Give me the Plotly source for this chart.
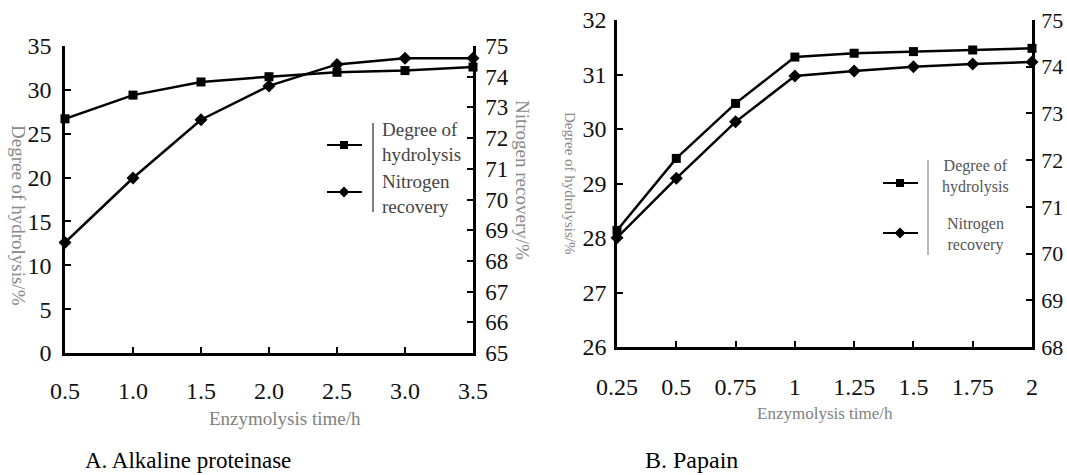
import plotly.graph_objects as go

W, H = 1067, 475

# ---------------- data ----------------
a_time = [0.5, 1.0, 1.5, 2.0, 2.5, 3.0, 3.5]
a_dh = [26.7, 29.4, 30.9, 31.5, 32.0, 32.2, 32.6]          # left axis
a_nr = [68.6, 70.7, 72.6, 73.7, 74.4, 74.6, 74.6]          # right axis
a_xticks = ["0.5", "1.0", "1.5", "2.0", "2.5", "3.0", "3.5"]

b_time = [0.25, 0.5, 0.75, 1.0, 1.25, 1.5, 1.75, 2.0]
b_dh = [28.14, 29.46, 30.47, 31.32, 31.39, 31.42, 31.45, 31.48]   # left axis
b_nr = [70.34, 71.61, 72.82, 73.80, 73.91, 74.00, 74.06, 74.10]   # right axis
b_xticks = ["0.25", "0.5", "0.75", "1", "1.25", "1.5", "1.75", "2"]

SERIF = "Liberation Serif, Times New Roman, DejaVu Serif, serif"


def px(x):
    return x / W


def py(y):
    return 1 - y / H


fig = go.Figure()

line_a = dict(color="black", width=2.5)
line_b = dict(color="black", width=2.5)

fig.add_trace(go.Scatter(x=a_time, y=a_dh, mode="lines+markers", line=line_a,
                         marker=dict(symbol="square", size=9, color="black"),
                         xaxis="x", yaxis="y", cliponaxis=False, showlegend=False))
fig.add_trace(go.Scatter(x=a_time, y=a_nr, mode="lines+markers", line=line_a,
                         marker=dict(symbol="diamond", size=10, color="black"),
                         xaxis="x", yaxis="y2", cliponaxis=False, showlegend=False))
fig.add_trace(go.Scatter(x=b_time, y=b_dh, mode="lines+markers", line=line_b,
                         marker=dict(symbol="square", size=9, color="black"),
                         xaxis="x2", yaxis="y3", cliponaxis=False, showlegend=False))
fig.add_trace(go.Scatter(x=b_time, y=b_nr, mode="lines+markers", line=line_b,
                         marker=dict(symbol="diamond", size=10, color="black"),
                         xaxis="x2", yaxis="y4", cliponaxis=False, showlegend=False))


def axis_style(size=24):
    return dict(showline=True, linecolor="black", linewidth=2.5, ticks="inside",
                ticklen=6, tickwidth=2, tickcolor="black", showgrid=False,
                zeroline=False, automargin=False, ticklabeloverflow="allow",
                tickfont=dict(family=SERIF, size=size, color="#111"))


a_dom_x = [px(65), px(473)]
a_dom_y = [py(353), py(46)]
b_dom_x = [px(617), px(1032)]
b_dom_y = [py(347), py(20)]

fig.update_layout(
    template=None,
    width=W, height=H, margin=dict(l=0, r=0, t=0, b=0, autoexpand=False),
    paper_bgcolor="white", plot_bgcolor="white",
    font=dict(family=SERIF),
    xaxis=dict(domain=a_dom_x, range=[0.5, 3.5], anchor="y", tickvals=a_time,
               ticktext=a_xticks, ticklabelstandoff=14, **axis_style(24)),
    yaxis=dict(domain=a_dom_y, range=[0, 35], anchor="x", dtick=5,
               ticklabelstandoff=6, **axis_style(24)),
    yaxis2=dict(domain=a_dom_y, range=[65, 75], anchor="x", overlaying="y",
                side="right", dtick=1, ticklabelstandoff=5, **axis_style(23)),
    xaxis2=dict(domain=b_dom_x, range=[0.25, 2], anchor="y3", tickvals=b_time,
                ticktext=b_xticks, ticklabelstandoff=16, **axis_style(24)),
    yaxis3=dict(domain=b_dom_y, range=[26, 32], anchor="x2", dtick=1,
                ticklabelstandoff=3, **axis_style(24)),
    yaxis4=dict(domain=b_dom_y, range=[68, 75], anchor="x2", overlaying="y3",
                side="right", dtick=1, ticklabelstandoff=2, **axis_style(22)),
)

ann = []


def text(x, y, s, size, color, angle=0, xanchor="center", align="center"):
    ann.append(dict(x=px(x), y=py(y), xref="paper", yref="paper", text=s,
                    showarrow=False, textangle=angle, xanchor=xanchor,
                    yanchor="middle", align=align,
                    font=dict(family=SERIF, size=size, color=color)))


# axis titles
text(19, 215, "Degree of hydrolysis/%", 19, "#8a8a8a", angle=90)
text(523, 180, "Nitrogen recovery/%", 19, "#8a8a8a", angle=90)
text(285, 418, "Enzymolysis time/h", 19, "#808080")
text(570, 183, "Degree of hydrolysis/%", 15, "#8a8a8a", angle=90)
text(825, 413, "Enzymolysis time/h", 17, "#808080")

# captions
text(83, 460, "A. Alkaline proteinase", 23, "black", xanchor="left")
text(643, 460, "B. Papain", 24, "black", xanchor="left")

# legend texts
text(380, 142, "Degree of<br>hydrolysis", 19, "#444", xanchor="left", align="left")
text(380, 194, "Nitrogen<br>recovery", 19, "#444", xanchor="left", align="left")
text(975, 176, "Degree of<br>hydrolysis", 16, "#555")
text(975, 234, "Nitrogen<br>recovery", 16, "#555")

fig.update_layout(annotations=ann)

shapes = []


def seg(x0, y0, x1, y1, width, color="black"):
    shapes.append(dict(type="line", xref="paper", yref="paper",
                       x0=px(x0), y0=py(y0), x1=px(x1), y1=py(y1),
                       line=dict(color=color, width=width)))


def square(cx, cy, s):
    shapes.append(dict(type="rect", xref="paper", yref="paper",
                       x0=px(cx - s), x1=px(cx + s), y0=py(cy + s), y1=py(cy - s),
                       fillcolor="black", line=dict(width=0)))


def diamond(cx, cy, s):
    path = "M {a},{b} L {c},{d} L {e},{f} L {g},{h} Z".format(
        a=px(cx), b=py(cy - s), c=px(cx + s), d=py(cy),
        e=px(cx), f=py(cy + s), g=px(cx - s), h=py(cy))
    shapes.append(dict(type="path", xref="paper", yref="paper", path=path,
                       fillcolor="black", line=dict(width=0)))


# legend A
seg(327, 145, 362, 145, 2)
square(344, 145, 4)
seg(327, 192, 362, 192, 2)
diamond(344, 192, 5.5)
seg(373, 123, 373, 212, 1.5, "#555")

# legend B
seg(883, 183, 918, 183, 2)
square(900, 183, 4)
seg(883, 233, 918, 233, 2)
diamond(900, 233, 5.5)
seg(928, 160, 928, 255, 1, "#777")

fig.update_layout(shapes=shapes)

# remove the default 8px page margin so the figure fills the window exactly
fig.write_html("out.html",
               config={"displayModeBar": False},
               post_script="document.body.style.margin='0';"
                           "document.body.style.overflow='hidden';")
